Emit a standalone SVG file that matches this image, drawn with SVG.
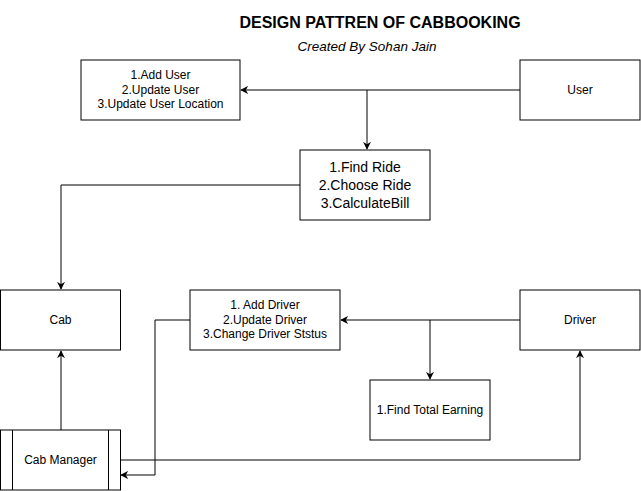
<svg xmlns="http://www.w3.org/2000/svg" width="641" height="491" viewBox="0 0 641 491">
<style>
.box{fill:#fff;stroke:#000;stroke-width:1}
.t{font-family:"Liberation Sans",Arial,sans-serif;font-size:12px;fill:#000;text-anchor:middle;dominant-baseline:central}
.big{font-size:14px}
.c{fill:none;stroke:#000;stroke-width:1}
</style>
<defs>
<marker id="ah" viewBox="0 0 10 10" refX="9" refY="5" markerWidth="8" markerHeight="8" markerUnits="userSpaceOnUse" orient="auto">
<path d="M0,0 L10,5 L0,10 L3,5 Z" fill="#000"/>
</marker>
</defs>
<rect width="641" height="491" fill="#fff"/>
<text x="380" y="22" class="t" style="font-size:16px;font-weight:bold">DESIGN PATTREN OF CABBOOKING</text>
<text x="367" y="46" class="t" style="font-size:13.5px;font-style:italic">Created By Sohan Jain</text>

<g id="connectors">
<path class="c" d="M520,90 L241,90" marker-end="url(#ah)"/>
<path class="c" d="M367,90 L367,149" marker-end="url(#ah)"/>
<path class="c" d="M300,185 L61,185 L61,289" marker-end="url(#ah)"/>
<path class="c" d="M520,320 L341,320" marker-end="url(#ah)"/>
<path class="c" d="M430,320 L430,379" marker-end="url(#ah)"/>
<path class="c" d="M61,430 L61,351" marker-end="url(#ah)"/>
<path class="c" d="M120,460 L580,460 L580,351" marker-end="url(#ah)"/>
<path class="c" d="M190,320 L155,320 L155,475 L121,475" marker-end="url(#ah)"/>
</g>

<g id="userOps">
<rect class="box" x="81" y="60" width="159" height="60"/>
<text class="t" x="160.5" y="75">1.Add User</text>
<text class="t" x="160.5" y="89.5">2.Update User</text>
<text class="t" x="160.5" y="104">3.Update User Location</text>
</g>
<g id="user">
<rect class="box" x="520" y="60" width="120" height="60"/>
<text class="t" x="580" y="90">User</text>
</g>
<g id="rideOps">
<rect class="box" x="300" y="150" width="130" height="70"/>
<text class="t big" x="365" y="167">1.Find Ride</text>
<text class="t big" x="365" y="185">2.Choose Ride</text>
<text class="t big" x="365" y="203">3.CalculateBill</text>
</g>
<g id="cab">
<rect class="box" x="0.5" y="290" width="120" height="60"/>
<text class="t" x="60.5" y="320">Cab</text>
</g>
<g id="driverOps">
<rect class="box" x="190" y="290" width="150" height="60"/>
<text class="t" x="265" y="305">1. Add Driver</text>
<text class="t" x="265" y="319.5">2.Update Driver</text>
<text class="t" x="265" y="334">3.Change Driver Ststus</text>
</g>
<g id="driver">
<rect class="box" x="520" y="290" width="120" height="60"/>
<text class="t" x="580" y="320">Driver</text>
</g>
<g id="earning">
<rect class="box" x="370" y="380" width="120" height="60"/>
<text class="t" x="430" y="410">1.Find Total Earning</text>
</g>
<g id="cabManager">
<rect class="box" x="0.5" y="430" width="120" height="60"/>
<line class="c" x1="12.5" y1="430" x2="12.5" y2="490"/>
<line class="c" x1="108.5" y1="430" x2="108.5" y2="490"/>
<text class="t" x="60.5" y="460">Cab Manager</text>
</g>
</svg>
